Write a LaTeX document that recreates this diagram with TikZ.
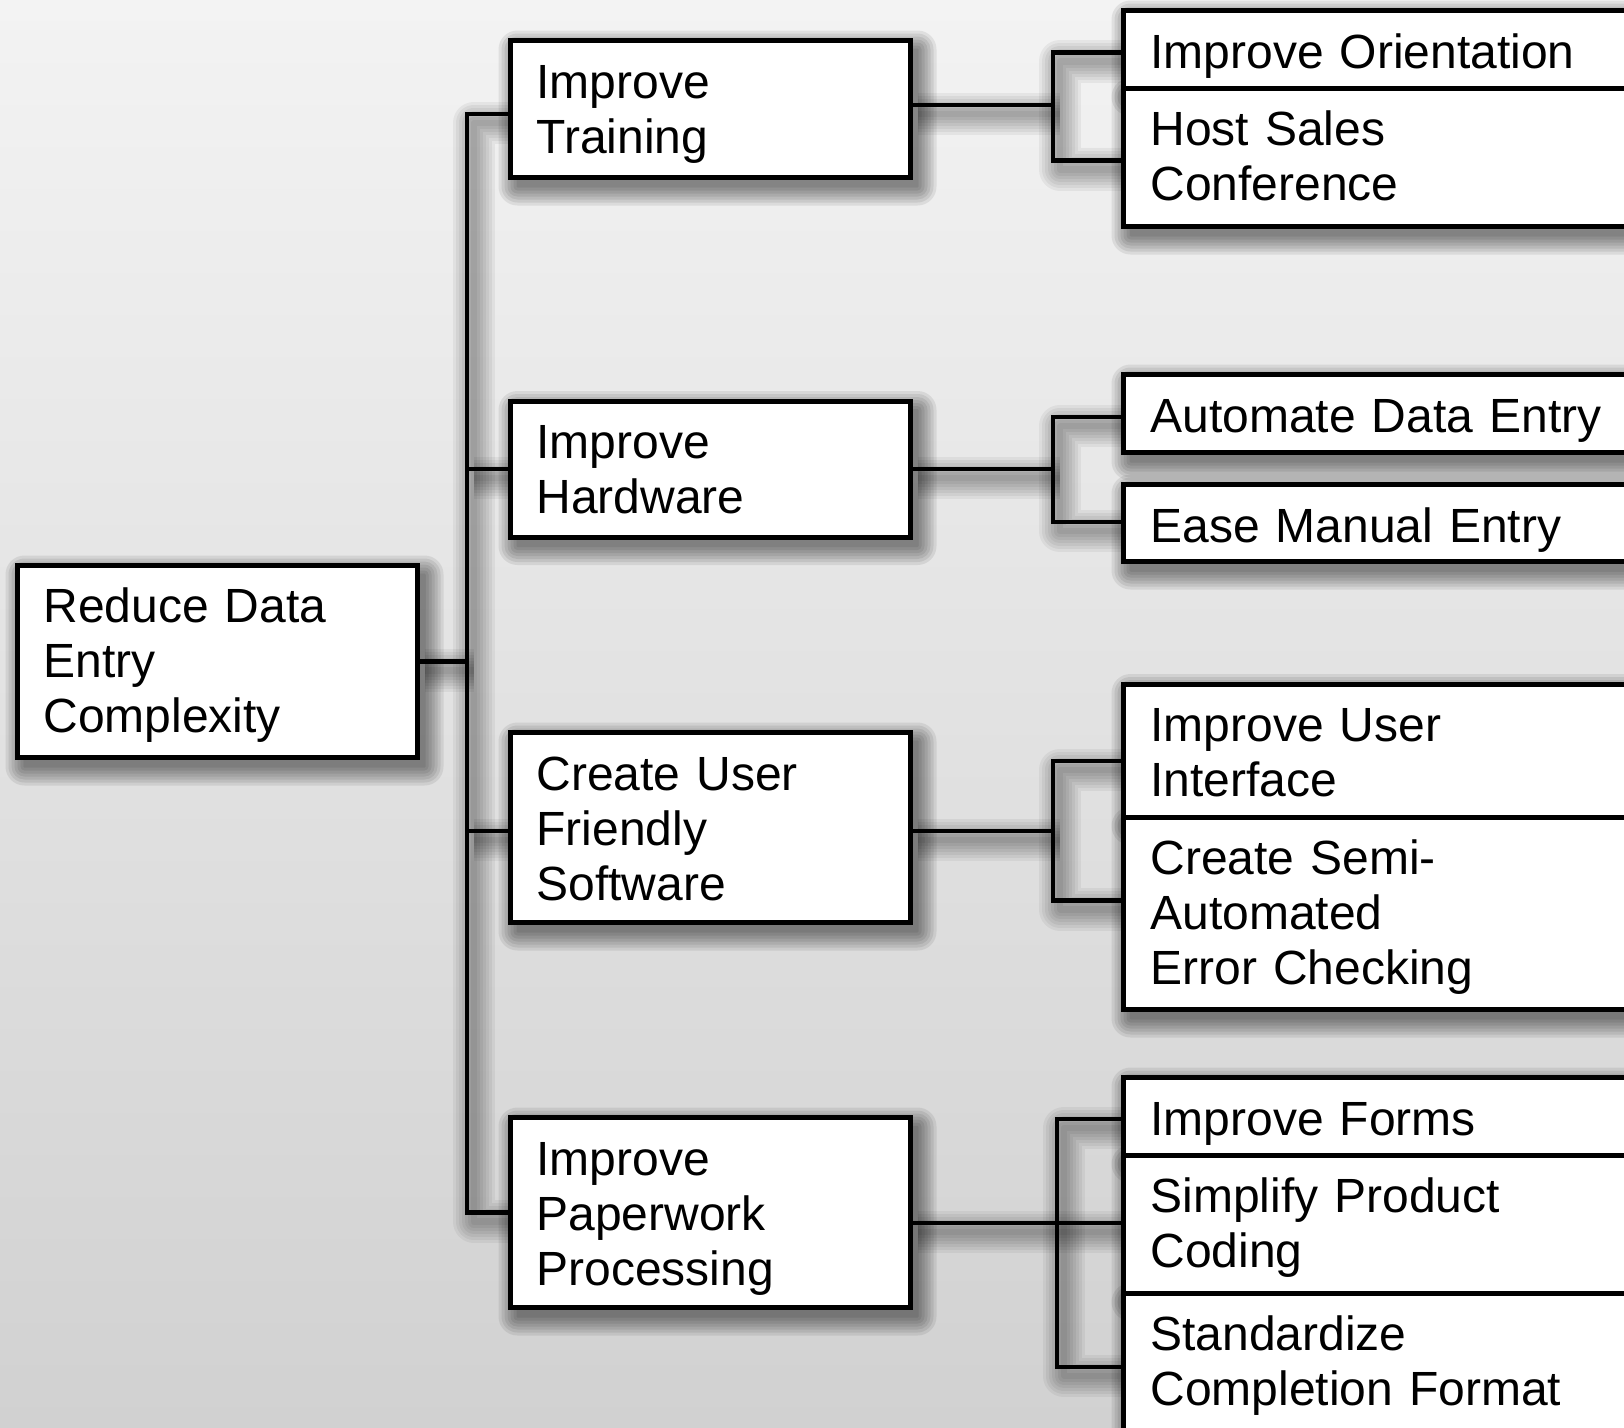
\documentclass[tikz,border=0pt]{standalone}
\usepackage{fontspec}
\setmainfont{Liberation Sans}[WordSpace=0.72]
\usetikzlibrary{calc}

\definecolor{bgtop}{RGB}{243,243,243}
\definecolor{bgbot}{RGB}{209,209,209}

\pgfdeclarelayer{backlayer}
\pgfdeclarelayer{shadowlayer}
\pgfdeclarelayer{linklayer}
\pgfsetlayers{backlayer,shadowlayer,linklayer,main}

\tikzset{
  box/.style={rectangle, draw=black, line width=5pt, fill=white,
    inner sep=0pt, outer sep=0pt, anchor=north west},
  boxtext/.style={anchor=base west, inner sep=0pt, outer sep=0pt,
    text width=600pt, align=left, font=\fontsize{48}{55}\selectfont},
  link/.style={draw=black, line width=4.5pt},
}

% box frame: name, left, top, width, height
\newcommand\boxat[5]{\node[box, minimum width=#4pt, minimum height=#5pt] (#1) at (#2,#3) {};}

% every connector of the tree, drawn with the given options
\newcommand\linkpaths[1]{%
  \path[#1] (root.east) -- (root.east -| spine);
  \path[#1] (trIn) -- (trIn -| spine) -- (paperwork.west -| spine) -- (paperwork.west);
  \path[#1] (hardware.west -| spine) -- (hardware.west);
  \path[#1] (swIn -| spine) -- (swIn);
  % training branch
  \path[#1] (trOut) -- (trOut -| jx);
  \path[#1] (oIn) -- (oIn -| jx) -- (hIn -| jx) -- (hIn);
  % hardware branch
  \path[#1] (hardware.east) -- (hardware.east -| jx);
  \path[#1] (aIn) -- (aIn -| jx) -- (eIn -| jx) -- (eIn);
  % software branch
  \path[#1] (swOut) -- (swOut -| jx);
  \path[#1] (uIn) -- (uIn -| jx) -- (sIn -| jx) -- (sIn);
  % paperwork branch
  \path[#1] (ppOut) -- (ppOut -| simplify.west);
  \path[#1] (fIn) -- (fIn -| jxd) -- (standard.west -| jxd) -- (standard.west);
}

\newcommand\boxshadows[2]{%
  \foreach \n in {root,training,hardware,software,paperwork,orient,host,
                  automate,ease,interface,semi,forms,simplify,standard}{%
    \fill[black, fill opacity=#2, rounded corners=#1pt]
      ($(\n.north west)+(-#1,-#1)$) rectangle ($(\n.south east)+(#1,#1)$);
  }%
}

\begin{document}
\begin{tikzpicture}[x=1pt, y=-1pt]
\path[use as bounding box] (0,0) rectangle (1624,1427);

\begin{pgfonlayer}{backlayer}
  \shade[top color=bgtop, bottom color=bgbot] (0,0) rectangle (1624,1427);
\end{pgfonlayer}

% boxes
\boxat{root}{17.5}{565.5}{400}{192}
\boxat{training}{510.5}{40.5}{400}{137}
\boxat{hardware}{510.5}{401}{400}{136}
\boxat{software}{510.5}{732.5}{400}{190}
\boxat{paperwork}{510.5}{1117.5}{400}{190}
\boxat{orient}{1123.5}{10.5}{536.5}{77.5}
\boxat{host}{1123.5}{88}{536.5}{138.5}
\boxat{automate}{1123.5}{374.5}{536.5}{78}
\boxat{ease}{1123.5}{484.5}{536.5}{77}
\boxat{interface}{1123.5}{684}{536.5}{133}
\boxat{semi}{1123.5}{817}{536.5}{192.5}
\boxat{forms}{1123.5}{1077.5}{536.5}{77.5}
\boxat{simplify}{1123.5}{1155}{536.5}{138}
\boxat{standard}{1123.5}{1293}{536.5}{148}

% texts
\node[boxtext] (t-root) at (43.5,622.5) {Reduce Data\\Entry\\Complexity};
\node[boxtext] (t-training) at (536.5,98) {Improve\\Training};
\node[boxtext] (t-hardware) at (536.5,458.5) {Improve\\Hardware};
\node[boxtext] (t-software) at (536.5,790) {Create User\\Friendly\\Software};
\node[boxtext] (t-paperwork) at (536.5,1175) {Improve\\Paperwork\\Processing};
\node[boxtext] (t-orient) at (1150.5,68) {Improve Orientation};
\node[boxtext] (t-host) at (1150.5,145.5) {Host Sales\\Conference};
\node[boxtext] (t-automate) at (1150.5,432) {Automate Data Entry};
\node[boxtext] (t-ease) at (1150.5,542) {Ease Manual Entry};
\node[boxtext] (t-interface) at (1150.5,741.5) {Improve User\\Interface};
\node[boxtext] (t-semi) at (1150.5,874.5) {Create Semi-\\Automated\\Error Checking};
\node[boxtext] (t-forms) at (1150.5,1135) {Improve Forms};
\node[boxtext] (t-simplify) at (1150.5,1212.5) {Simplify Product\\Coding};
\node[boxtext] (t-standard) at (1150.5,1350.5) {Standardize\\Completion Format};

% spine positions and branch end points
\coordinate (spine) at (467,0);
\coordinate (jx) at (1053,0);
\coordinate (jxd) at (1057,0);
\coordinate (trIn) at ($(training.west)+(0,5)$);
\coordinate (swIn) at ($(software.west)+(0,3.5)$);
\coordinate (trOut) at ($(training.east)+(0,-4)$);
\coordinate (swOut) at ($(software.east)+(0,3.5)$);
\coordinate (ppOut) at ($(paperwork.east)+(0,10.5)$);
\coordinate (oIn) at ($(orient.west)+(0,3)$);
\coordinate (hIn) at ($(host.west)+(0,3)$);
\coordinate (aIn) at ($(automate.west)+(0,3.5)$);
\coordinate (eIn) at ($(ease.west)+(0,-1)$);
\coordinate (uIn) at ($(interface.west)+(0,10.5)$);
\coordinate (sIn) at ($(semi.west)+(0,-13)$);
\coordinate (fIn) at ($(forms.west)+(0,2.75)$);

% soft drop shadows
\begin{pgfonlayer}{shadowlayer}
  \begin{scope}[transform canvas={xshift=7pt, yshift=-9pt}]
    \foreach \r in {1,4,7,10,13,16,19}{%
      \boxshadows{\r}{0.08}
      \linkpaths{draw=black, draw opacity=0.05, line width={4.5+2*\r}, line cap=butt, line join=round}
    }
  \end{scope}
\end{pgfonlayer}

% connectors
\begin{pgfonlayer}{linklayer}
  \linkpaths{link}
\end{pgfonlayer}
\end{tikzpicture}
\end{document}
